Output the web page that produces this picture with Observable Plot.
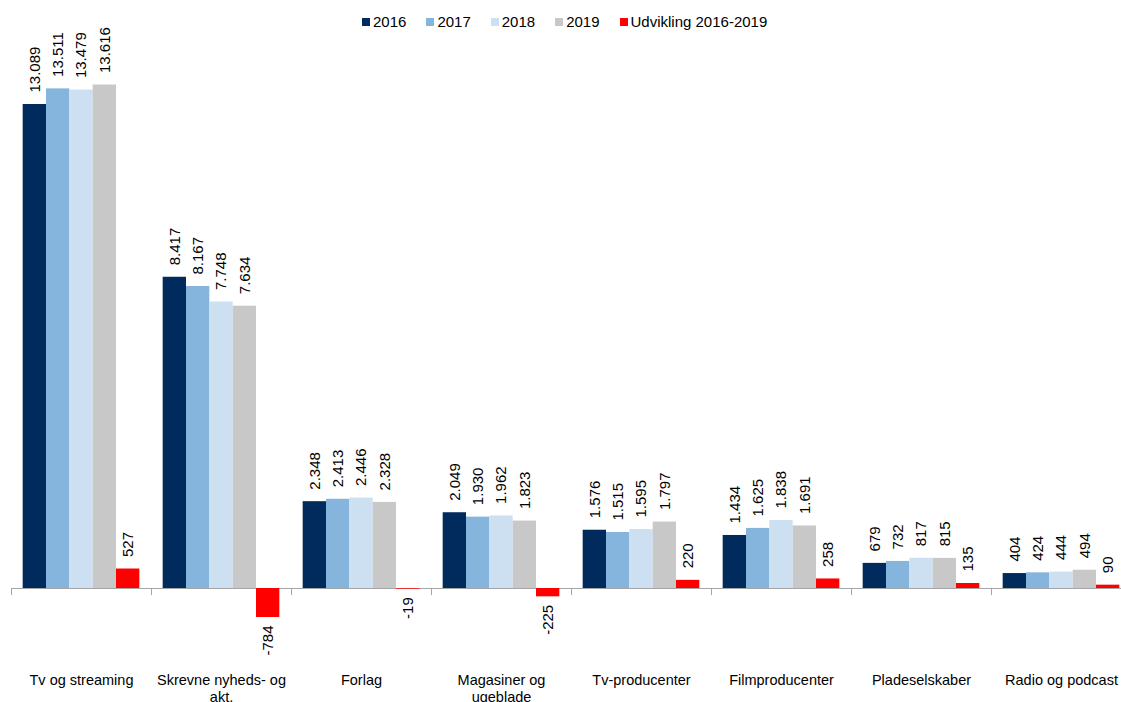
<!DOCTYPE html>
<html><head><meta charset="utf-8">
<script src="https://cdn.jsdelivr.net/npm/d3@7"></script>
<script src="https://cdn.jsdelivr.net/npm/@observablehq/plot@0.6"></script>
<style>
html,body{margin:0;padding:0;background:#fff;overflow:hidden}
#wrap{position:relative;width:1121px;height:702px}
#legend{position:absolute;top:13px;left:362px;display:flex;align-items:center;font:15px "Liberation Sans",Arial,sans-serif;line-height:17px;color:#000;white-space:nowrap}
#legend .item{display:flex;align-items:center;margin-right:20px}
#legend .sw{width:8px;height:8px;margin-right:3px}
</style></head>
<body><div id="wrap"><div id="chart"></div><div id="legend"></div></div>
<script>
const categories = ["Tv og streaming","Skrevne nyheds- og akt.","Forlag","Magasiner og ugeblade","Tv-producenter","Filmproducenter","Pladeselskaber","Radio og podcast"];
const seriesNames = ["2016","2017","2018","2019","Udvikling 2016-2019"];
const v2016 = [13089, 8417, 2348, 2049, 1576, 1434, 679, 404];
const v2017 = [13511, 8167, 2413, 1930, 1515, 1625, 732, 424];
const v2018 = [13479, 7748, 2446, 1962, 1595, 1838, 817, 444];
const v2019 = [13616, 7634, 2328, 1823, 1797, 1691, 815, 494];
const change = [527, -784, -19, -225, 220, 258, 135, 90];
const colors = ["#002B5C","#85B4DC","#CCE0F2","#C8C8C8","#FF0000"];

const seriesValues = [v2016, v2017, v2018, v2019, change];
const data = [];
categories.forEach((c, i) => {
  seriesValues.forEach((arr, j) => data.push({category: c, series: seriesNames[j], value: arr[i]}));
});
const fmt = d3.formatLocale({decimal: ",", thousands: ".", grouping: [3], currency: ["", ""], minus: "-"}).format(",d");

const zeroY = 588;
const k = (588 - 104) / 13089;
const yMin = -2000, yMax = 15800;
const font = '"Liberation Sans", Arial, sans-serif';

const chart = Plot.plot({
  width: 1121, height: 702,
  marginTop: 0, marginBottom: 108, marginLeft: 11, marginRight: 0,
  style: {fontFamily: font, fontSize: "15px", background: "#fff", color: "#000"},
  fx: {domain: categories, range: [11, 1131], padding: 0, round: false, axis: null, label: null},
  x: {domain: seriesNames, paddingInner: 0, paddingOuter: 0.5, round: false, axis: null, label: null},
  y: {domain: [yMin, yMax], range: [zeroY - yMin * k, zeroY - yMax * k], axis: null, label: null},
  color: {domain: seriesNames, range: colors},
  marks: [
    Plot.ruleY([0], {stroke: "#A6A6A6", strokeWidth: 1}),
    Plot.frame({anchor: "left", stroke: "#A6A6A6", insetTop: 588}),
    Plot.barY(data, {fx: "category", x: "series", y: "value", fill: "series"}),
    Plot.text(data.filter(d => d.value >= 0), {fx: "category", x: "series", y: "value", text: d => fmt(d.value), rotate: -90, textAnchor: "start", dy: -12, fill: "#000", fontSize: 15}),
    Plot.text(data.filter(d => d.value < 0), {fx: "category", x: "series", y: "value", text: d => fmt(d.value), rotate: -90, textAnchor: "end", dy: 8, fill: "#000", fontSize: 15}),
    Plot.text(categories, {fx: d => d, text: d => d, frameAnchor: "bottom", lineAnchor: "top", lineWidth: 10, lineHeight: 1.2, dy: 78, fill: "#000", fontSize: 14.5})
  ]
});
document.getElementById("chart").appendChild(chart);

const legend = document.getElementById("legend");
seriesNames.forEach((s, i) => {
  const item = document.createElement("div");
  item.className = "item";
  const sw = document.createElement("span");
  sw.className = "sw";
  sw.style.background = colors[i];
  const t = document.createElement("span");
  t.textContent = s;
  item.appendChild(sw); item.appendChild(t);
  legend.appendChild(item);
});
</script>
</body></html>
